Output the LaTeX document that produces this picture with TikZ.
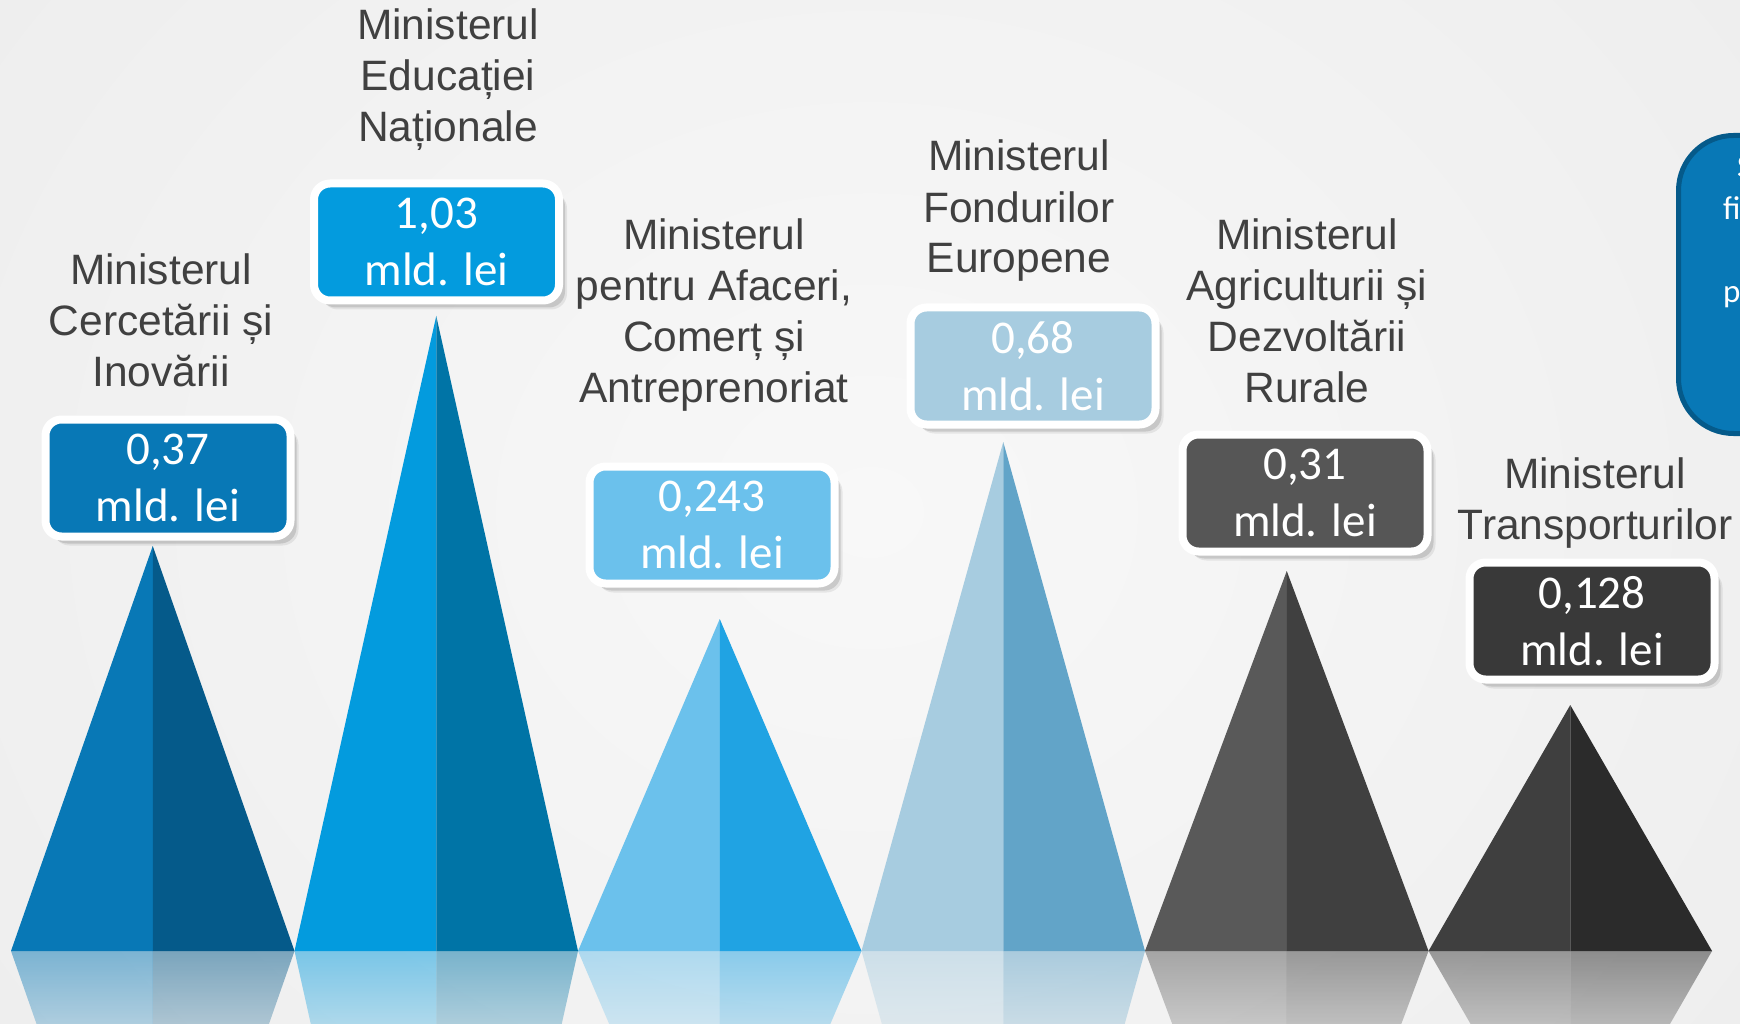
\documentclass[tikz,border=0pt]{standalone}
\usepackage{fontspec}
\setmainfont{Liberation Sans}
\newfontfamily\carlito{Carlito}
\usetikzlibrary{calc,fadings,shadows}
\definecolor{cA1}{HTML}{0878B6}\definecolor{cA2}{HTML}{055A8A}
\definecolor{cB1}{HTML}{039BDE}\definecolor{cB2}{HTML}{0074A6}
\definecolor{cC1}{HTML}{6BC1EC}\definecolor{cC2}{HTML}{20A3E3}
\definecolor{cD1}{HTML}{A7CCE0}\definecolor{cD2}{HTML}{62A4C8}
\definecolor{cE1}{HTML}{595959}\definecolor{cE2}{HTML}{404040}
\definecolor{cF1}{HTML}{3F3F3F}\definecolor{cF2}{HTML}{2B2B2B}
\definecolor{boxE}{HTML}{565656}\definecolor{boxF}{HTML}{393939}
\definecolor{titlec}{HTML}{404040}
\definecolor{bgout}{HTML}{EEEEEE}\definecolor{bgin}{HTML}{F8F8F8}
\tikzfading[name=reflfade, top color=transparent!50, bottom color=transparent!72]
\newcommand\drawpeak[6]{%
  \pgfmathsetmacro\pkcx{(#1+#2)/2}%
  \pgfmathsetmacro\pkrt{73/(951-#3)}%
  \coordinate (#6L) at (#1,951);
  \coordinate (#6R) at (#2,951);
  \coordinate (#6T) at (\pkcx,#3);
  \coordinate (#6M) at (\pkcx,951);
  \coordinate (#6D) at (\pkcx,1024);
  \coordinate (#6B) at (\pkcx,{951+(951-#3)});
  \fill[#4] (#6L) -- (#6T) -- (#6M) -- cycle;
  \fill[#5] (#6M) -- (#6T) -- (#6R) -- cycle;
  \fill[#4, path fading=reflfade] (#6L) -- (#6M) -- (#6D) -- ($(#6L)!\pkrt!(#6B)$) -- cycle;
  \fill[#5, path fading=reflfade] (#6M) -- (#6R) -- ($(#6R)!\pkrt!(#6B)$) -- (#6D) -- cycle;
}
\tikzset{
  valbox/.style={draw=white, line width=8pt, rounded corners=16pt,
    minimum width=245pt, minimum height=117pt, inner sep=0pt, text=white,
    align=center, font=\carlito\fontsize{47}{57}\selectfont,
    drop shadow={shadow xshift=8pt, shadow yshift=-9pt, opacity=0.07, fill=black},
    drop shadow={shadow xshift=6pt, shadow yshift=-7pt, opacity=0.12, fill=black}},
  title/.style={anchor=base, inner sep=0pt, align=center, text=titlec,
    font=\fontsize{42.5}{51}\selectfont},
  sidetext/.style={anchor=base west, inner sep=0pt, text=white,
    font=\carlito\fontsize{33}{40}\selectfont}
}
\begin{document}
\begin{tikzpicture}[x=1pt,y=-1pt]
\useasboundingbox (0,0) rectangle (1740,1024);
\clip (0,0) rectangle (1740,1024);
\fill[bgout] (0,0) rectangle (1740,1024);
\shade[inner color=bgin, outer color=bgout] (-200,-400) rectangle (1940,1424);
% peaks
\drawpeak{11}{294.5}{546}{cA1}{cA2}{pa}
\drawpeak{294.5}{578}{316}{cB1}{cB2}{pb}
\drawpeak{578}{861.5}{619}{cC1}{cC2}{pc}
\drawpeak{861.5}{1145}{442}{cD1}{cD2}{pd}
\drawpeak{1145}{1428.5}{571}{cE1}{cE2}{pe}
\drawpeak{1428.5}{1712}{705}{cF1}{cF2}{pf}
% value boxes
\node[valbox, fill=cA1] (ba) at (168,478) {0,37\\mld. lei};
\node[valbox, fill=cB1] (bb) at (436.5,242) {1,03\\mld. lei};
\node[valbox, fill=cC1] (bc) at (712,525) {0,243\\mld. lei};
\node[valbox, fill=cD1] (bd) at (1033,366) {0,68\\mld. lei};
\node[valbox, fill=boxE] (be) at (1305,493) {0,31\\mld. lei};
\node[valbox, fill=boxF] (bf) at (1592,621) {0,128\\mld. lei};
% titles (anchor = baseline of last line)
\node[title] (ta) at (161,386) {Ministerul\\Cercetării și\\Inovării};
\node[title] (tb) at (448,142) {Ministerul\\Educației\\Naționale};
\node[title] (tc) at (714,402) {Ministerul\\pentru Afaceri,\\Comerț și\\Antreprenoriat};
\node[title] (td) at (1019,273) {Ministerul\\Fondurilor\\Europene};
\node[title] (te) at (1307,402) {Ministerul\\Agriculturii și\\Dezvoltării\\Rurale};
\node[title] (tf) at (1595,539) {Ministerul\\Transporturilor};
% side box (cut by the edge)
\draw[fill=cA1, draw=cA2, line width=5pt, rounded corners=55pt] (1678.5,135.5) rectangle (1820,433.5);
\node[sidetext] (sa) at (1737,178) {S};
\node[sidetext] (sb) at (1723,220) {fi};
\node[sidetext] (sc) at (1723,303) {p};
\end{tikzpicture}
\end{document}
